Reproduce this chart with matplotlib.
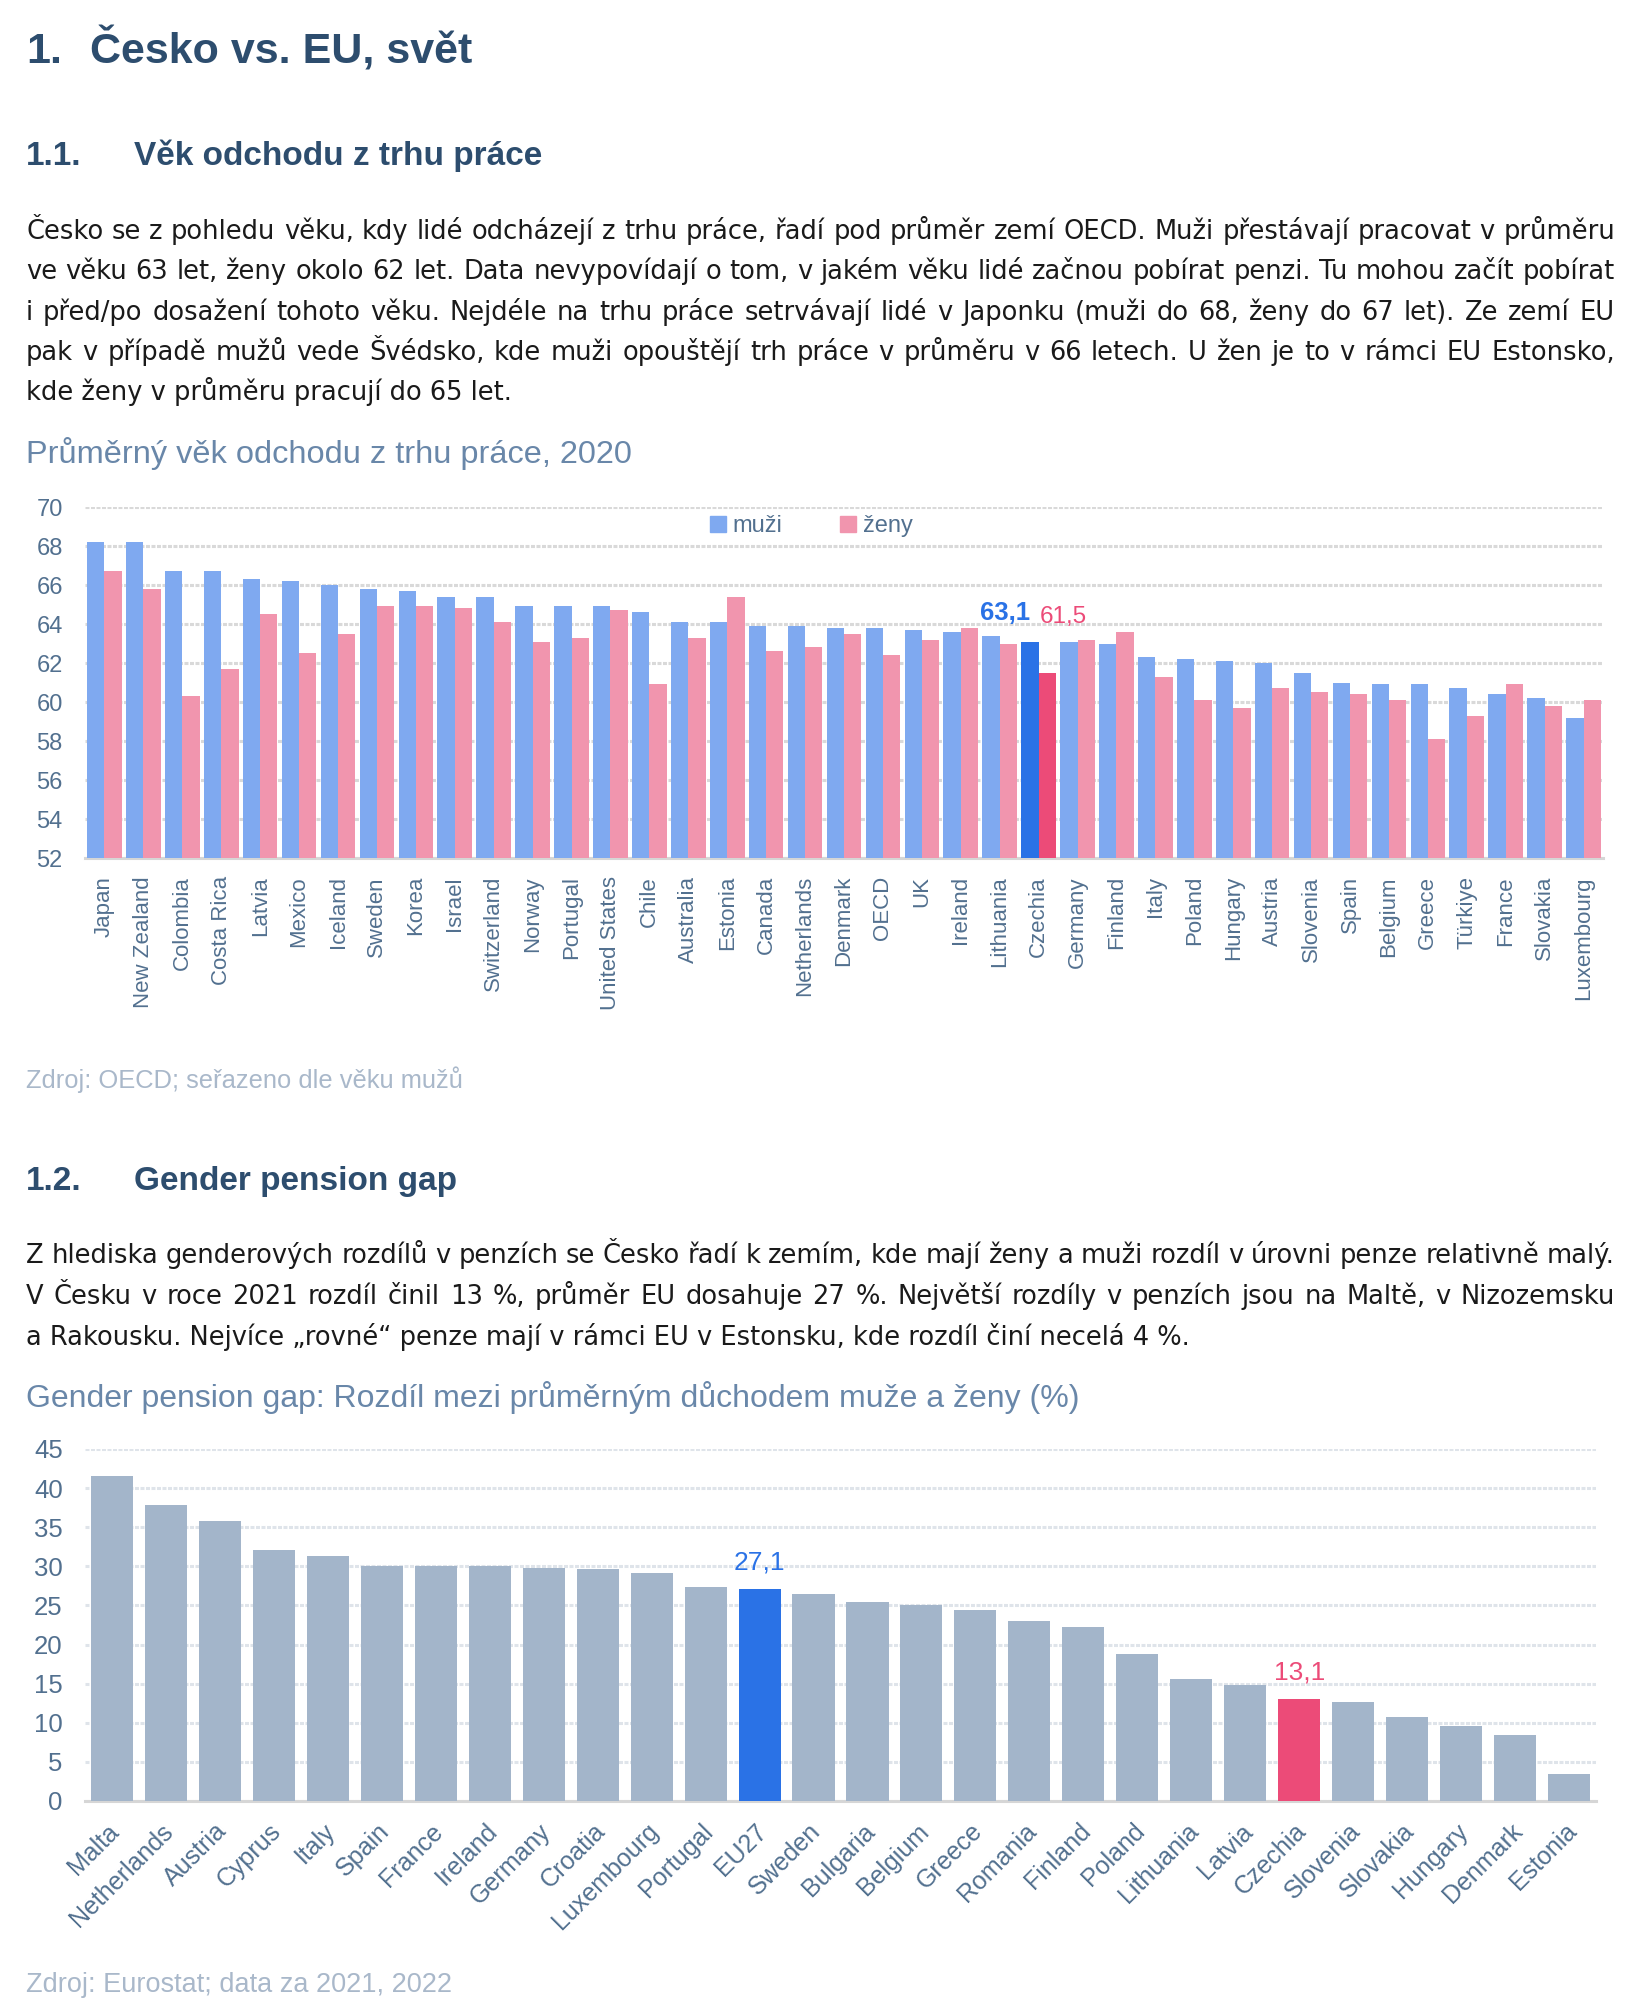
import matplotlib
matplotlib.use('Agg')
import matplotlib.pyplot as plt
from matplotlib.patches import Patch
from matplotlib.transforms import ScaledTranslation
import numpy as np

W, H = 1645, 2012

# --- graf 1: vek odchodu z trhu prace (2020)
zeme_1 = ['Japan', 'New Zealand', 'Colombia', 'Costa Rica', 'Latvia', 'Mexico', 'Iceland',
          'Sweden', 'Korea', 'Israel', 'Switzerland', 'Norway', 'Portugal', 'United States',
          'Chile', 'Australia', 'Estonia', 'Canada', 'Netherlands', 'Denmark', 'OECD', 'UK',
          'Ireland', 'Lithuania', 'Czechia', 'Germany', 'Finland', 'Italy', 'Poland', 'Hungary',
          'Austria', 'Slovenia', 'Spain', 'Belgium', 'Greece', 'Türkiye', 'France', 'Slovakia',
          'Luxembourg']
muzi = [68.2, 68.2, 66.7, 66.7, 66.3, 66.2, 66.0, 65.8, 65.7, 65.4, 65.4, 64.9, 64.9, 64.9,
        64.6, 64.1, 64.1, 63.9, 63.9, 63.8, 63.8, 63.7, 63.6, 63.4, 63.1, 63.1, 63.0, 62.3,
        62.2, 62.1, 62.0, 61.5, 61.0, 60.9, 60.9, 60.7, 60.4, 60.2, 59.2]
zeny = [66.7, 65.8, 60.3, 61.7, 64.5, 62.5, 63.5, 64.9, 64.9, 64.8, 64.1, 63.1, 63.3, 64.7,
        60.9, 63.3, 65.4, 62.6, 62.8, 63.5, 62.4, 63.2, 63.8, 63.0, 61.5, 63.2, 63.6, 61.3,
        60.1, 59.7, 60.7, 60.5, 60.4, 60.1, 58.1, 59.3, 60.9, 59.8, 60.1]

# --- graf 2: gender pension gap (%)
zeme_2 = ['Malta', 'Netherlands', 'Austria', 'Cyprus', 'Italy', 'Spain', 'France', 'Ireland',
          'Germany', 'Croatia', 'Luxembourg', 'Portugal', 'EU27', 'Sweden', 'Bulgaria',
          'Belgium', 'Greece', 'Romania', 'Finland', 'Poland', 'Lithuania', 'Latvia', 'Czechia',
          'Slovenia', 'Slovakia', 'Hungary', 'Denmark', 'Estonia']
gap = [41.5, 37.9, 35.8, 32.1, 31.3, 30.1, 30.1, 30.0, 29.8, 29.7, 29.1, 27.3, 27.1, 26.5,
       25.4, 25.1, 24.4, 23.0, 22.2, 18.8, 15.6, 14.8, 13.1, 12.7, 10.7, 9.6, 8.5, 3.4]

odstavec_1 = [
    'Česko se z pohledu věku, kdy lidé odcházejí z trhu práce, řadí pod průměr zemí OECD. Muži přestávají pracovat v průměru',
    've věku 63 let, ženy okolo 62 let. Data nevypovídají o tom, v jakém věku lidé začnou pobírat penzi. Tu mohou začít pobírat',
    'i před/po dosažení tohoto věku. Nejdéle na trhu práce setrvávají lidé v Japonku (muži do 68, ženy do 67 let). Ze zemí EU',
    'pak v případě mužů vede Švédsko, kde muži opouštějí trh práce v průměru v 66 letech. U žen je to v rámci EU Estonsko,',
    'kde ženy v průměru pracují do 65 let.',
]
odstavec_2 = [
    'Z hlediska genderových rozdílů v penzích se Česko řadí k zemím, kde mají ženy a muži rozdíl v úrovni penze relativně malý.',
    'V Česku v roce 2021 rozdíl činil 13 %, průměr EU dosahuje 27 %. Největší rozdíly v penzích jsou na Maltě, v Nizozemsku',
    'a Rakousku. Nejvíce „rovné“ penze mají v rámci EU v Estonsku, kde rozdíl činí necelá 4 %.',
]

# barvy
C_NADPIS = '#2D4D6E'
C_TITULEK = '#6987A9'
C_TICK = '#52708F'
C_ZDROJ = '#A9B8CA'
MODRA, RUZOVA = '#7FA9F0', '#F195AE'
MODRA_CZ, RUZOVA_CZ = '#2A72E6', '#EC4B78'
SEDA = '#A3B5CA'

plt.rcParams['font.family'] = ['Liberation Sans', 'DejaVu Sans']

fig = plt.figure(figsize=(W / 100, H / 100), dpi=100)
fig.patch.set_facecolor('white')


def fx(x):
    return x / W


def fy(y):
    return 1 - y / H


def text(x, y, s, **kw):
    return fig.text(fx(x), fy(y), s, va='baseline', **kw)


TELO = dict(fontsize=18.5, color='#1A1A1A', family='DejaVu Sans')


def odstavec(radky, y0, krok, x0=26, x1=1615):
    # zarovnani do bloku, posledni radek doleva
    r = fig.canvas.get_renderer()
    for i, radek in enumerate(radky):
        y = y0 + i * krok
        if i == len(radky) - 1:
            text(x0, y, radek, **TELO)
            continue
        slova = radek.split(' ')
        objekty = [text(0, y, s, **TELO) for s in slova]
        sirky = [t.get_window_extent(r).width for t in objekty]
        mezera = (x1 - x0 - sum(sirky)) / (len(slova) - 1)
        x = x0
        for t, w in zip(objekty, sirky):
            t.set_x(fx(x))
            x += w + mezera


def osa(ax):
    for s in ['top', 'left', 'right']:
        ax.spines[s].set_visible(False)
    ax.spines['bottom'].set_color('#D6D6D6')
    ax.spines['bottom'].set_linewidth(2.2)
    ax.set_axisbelow(True)
    ax.tick_params(length=0, colors=C_TICK)


# --- texty
text(26, 63, '1.', fontsize=31, weight='bold', color=C_NADPIS)
text(90, 63, 'Česko vs. EU, svět', fontsize=31, weight='bold', color=C_NADPIS)
text(26, 165, '1.1.', fontsize=24, weight='bold', color=C_NADPIS)
text(134, 165, 'Věk odchodu z trhu práce', fontsize=24, weight='bold', color=C_NADPIS)
odstavec(odstavec_1, 239, 40.3)
text(26, 463, 'Průměrný věk odchodu z trhu práce, 2020', fontsize=23.4, color=C_TITULEK)
text(26, 1088, 'Zdroj: OECD; seřazeno dle věku mužů', fontsize=18.4, color=C_ZDROJ)

text(26, 1190, '1.2.', fontsize=24, weight='bold', color=C_NADPIS)
text(134, 1190, 'Gender pension gap', fontsize=24, weight='bold', color=C_NADPIS)
odstavec(odstavec_2, 1263, 41)
text(26, 1407, 'Gender pension gap: Rozdíl mezi průměrným důchodem muže a ženy (%)',
     fontsize=23, color=C_TITULEK)
text(26, 1992, 'Zdroj: Eurostat; data za 2021, 2022', fontsize=19.5, color=C_ZDROJ)

# --- graf 1
ax1 = fig.add_axes([fx(85), fy(858), (1603 - 85) / W, (858 - 507) / H])
x1 = np.arange(len(zeme_1))
w = 0.445
barvy_m = [MODRA_CZ if z == 'Czechia' else MODRA for z in zeme_1]
barvy_z = [RUZOVA_CZ if z == 'Czechia' else RUZOVA for z in zeme_1]
ax1.bar(x1 - w / 2, muzi, w, color=barvy_m, zorder=3)
ax1.bar(x1 + w / 2, zeny, w, color=barvy_z, zorder=3)
ax1.set_ylim(52, 70)
ax1.set_xlim(-0.5, len(zeme_1) - 0.5)
ax1.set_yticks(range(52, 71, 2))
ax1.grid(axis='y', color='#D9D9D9', linewidth=2.2, linestyle=(0, (1.3, 0.5)))
osa(ax1)
ax1.set_xticks(x1)
ax1.set_xticklabels(zeme_1, rotation=90, fontsize=16)
ax1.tick_params(axis='x', pad=13)
ax1.tick_params(axis='y', labelsize=17, pad=16)

cz = zeme_1.index('Czechia')
ax1.text(cz - w / 2, 64.2, f'{muzi[cz]:.1f}'.replace('.', ','), ha='right', va='baseline',
         fontsize=18.5, weight='bold', color=MODRA_CZ)
ax1.text(cz + 0.02, 64.05, f'{zeny[cz]:.1f}'.replace('.', ','), ha='left', va='baseline',
         fontsize=17.5, color=RUZOVA_CZ)

ax1.legend(handles=[Patch(color=MODRA, label='muži'), Patch(color=RUZOVA, label='ženy')],
           loc='center', bbox_to_anchor=(0.4786, 0.946), ncol=2, frameon=False, fontsize=17,
           labelcolor=C_TICK, handlelength=0.65, handleheight=0.65, handletextpad=0.3,
           columnspacing=2.45)

# --- graf 2
ax2 = fig.add_axes([fx(85), fy(1801), (1596 - 85) / W, (1801 - 1449) / H])
x2 = np.arange(len(zeme_2))
barvy = [MODRA_CZ if z == 'EU27' else RUZOVA_CZ if z == 'Czechia' else SEDA for z in zeme_2]
ax2.bar(x2, gap, 0.78, color=barvy, zorder=3)
ax2.set_ylim(0, 45)
ax2.set_xlim(-0.5, len(zeme_2) - 0.5)
ax2.set_yticks(range(0, 46, 5))
ax2.grid(axis='y', color='#DFE4EA', linewidth=2.2, linestyle=(0, (1.3, 0.5)))
osa(ax2)
ax2.set_xticks(x2)
ax2.set_xticklabels(zeme_2, rotation=45, ha='right', va='top', rotation_mode='anchor',
                    fontsize=18)
ax2.tick_params(axis='x', pad=13)
ax2.tick_params(axis='y', labelsize=18.5, pad=16)
posun = ScaledTranslation(-5 / 100, 0, fig.dpi_scale_trans)
for lab in ax2.get_xticklabels():
    lab.set_transform(lab.get_transform() + posun)

for z, barva in [('EU27', MODRA_CZ), ('Czechia', RUZOVA_CZ)]:
    i = zeme_2.index(z)
    ax2.annotate(f'{gap[i]:.1f}'.replace('.', ','), (i, gap[i]), xytext=(0, 13.7),
                 textcoords='offset points', ha='center', va='baseline', fontsize=19,
                 color=barva)

fig.savefig('out.png', dpi=100, facecolor='white')
